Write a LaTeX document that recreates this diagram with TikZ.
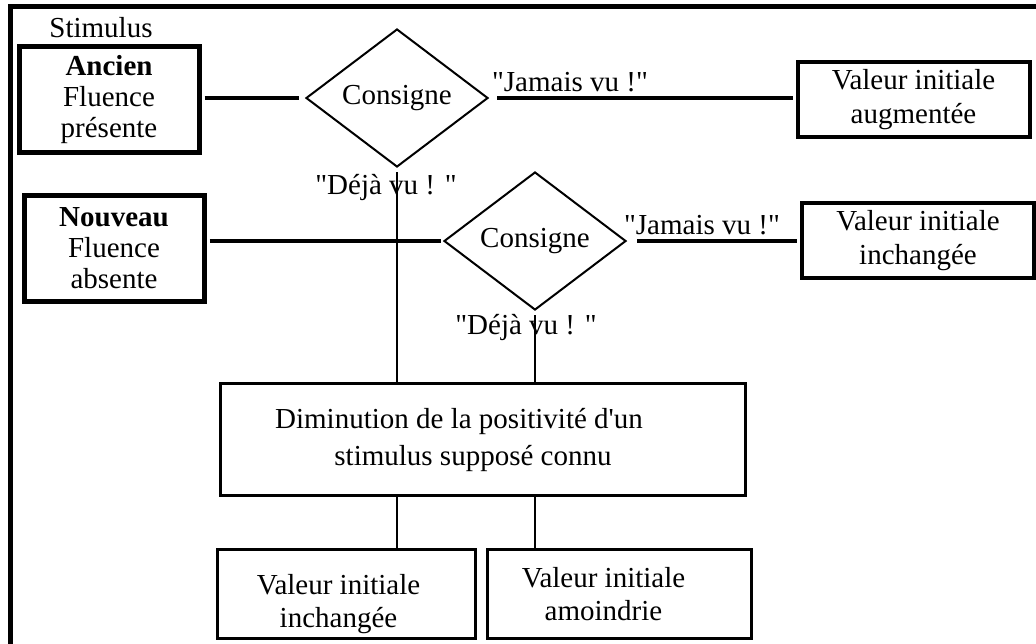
\documentclass[tikz,border=0pt]{standalone}
\usepackage{fontspec}
\setmainfont{Liberation Serif}[Ligatures=TeXOff]
\usetikzlibrary{shapes.geometric}

\begin{document}
\begin{tikzpicture}[x=0.5pt, y=-0.5pt,
  every node/.style={font=\fontsize{14.5}{17}\selectfont},
  sidebox/.style={draw, line width=2.5pt, align=center, inner sep=0pt, minimum width=90pt, minimum height=53pt, font=\fontsize{14.5}{15.5}\selectfont},
  valbox/.style={draw, line width=2pt, align=center, inner sep=0pt, minimum width=116pt, minimum height=37.5pt},
  lowbox/.style={draw, line width=1.5pt, align=center, inner sep=0pt, minimum height=44.5pt},
  choice/.style={diamond, draw, line width=1pt, inner sep=0pt, minimum width=91pt, minimum height=69pt},
  thickline/.style={line width=2pt, shorten <=1.5pt, shorten >=3pt},
  thinline/.style={line width=1pt}]

  \useasboundingbox (0,0) rectangle (1036,643);

  % Frame
  \draw[line width=2.5pt] (10.5,650) -- (10.5,6) -- (1045,6);

  % Stimuli
  \node (stimulus) at (101,28) {Stimulus};
  \node[sidebox] (ancien) at (109,99.5) {\textbf{Ancien}\\Fluence\\présente};
  \node[sidebox] (nouveau) at (114,248.5) {\textbf{Nouveau}\\Fluence\\absente};

  % Decisions
  \node[choice] (consigne1) at (397,98) {Consigne};
  \node[choice] (consigne2) at (535,241) {Consigne};

  % Outcomes
  \node[valbox] (augmentee) at (913.5,99.5) {Valeur initiale\\augmentée};
  \node[valbox] (inchangee1) at (918,240.5) {Valeur initiale\\inchangée};
  \node[lowbox, line width=1.5pt, minimum width=262.5pt, minimum height=56pt,
        font=\fontsize{14.5}{18.5}\selectfont] (diminution) at (483,439.5)
        {Diminution de la positivité d'un\hspace*{24pt}\\stimulus supposé connu\hspace*{10pt}};
  \node[lowbox, minimum width=129pt, font=\fontsize{14.5}{16.5}\selectfont] (inchangee2) at (346.5,594)
        {\rule{0pt}{20pt}Valeur initiale\hspace*{8pt}\\inchangée\hspace*{8pt}};
  \node[lowbox, minimum width=132pt, font=\fontsize{14.5}{16.5}\selectfont] (amoindrie) at (619.5,594)
        {Valeur initiale\hspace*{16pt}\\amoindrie\hspace*{16pt}};

  % Answers
  \node[anchor=west] (jamais1) at (485,82) {"Jamais vu !"};
  \node[anchor=west] (jamais2) at (617,225) {"Jamais vu !"};
  \node (deja1) at (386,187) {"Déjà vu ! "};
  \node (deja2) at (526,327) {"Déjà vu ! "};

  % Horizontal links
  \draw[thickline] (ancien.east |- consigne1.west) -- (consigne1.west);
  \draw[thickline, shorten <=4pt, shorten >=1.5pt] (consigne1.east) -- (consigne1.east -| augmentee.west);
  \draw[thickline, shorten >=1pt] (nouveau.east |- consigne2.west) -- (consigne2.west);
  \draw[thickline, shorten <=5pt, shorten >=1.5pt] (consigne2.east) -- (consigne2.east -| inchangee1.west);

  % Vertical links
  \foreach \c in {consigne1, consigne2} {
    \draw[thinline, shorten <=2pt] (\c.south) -- (\c.south |- diminution.north);
    \draw[thinline] (\c.south |- diminution.south) -- (\c.south |- inchangee2.north);
  }

\end{tikzpicture}
\end{document}
